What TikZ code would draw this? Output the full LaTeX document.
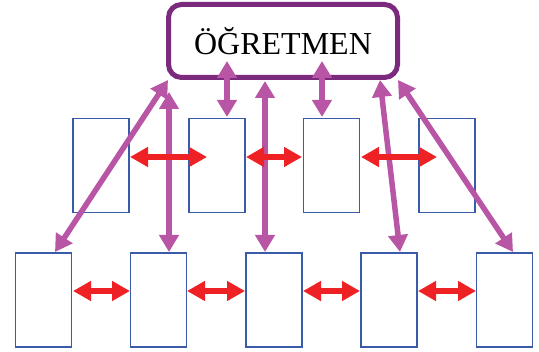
\documentclass[tikz,border=0pt]{standalone}
\usepackage{fontspec}
\setmainfont{Liberation Serif}
\usetikzlibrary{arrows.meta}
\definecolor{boxpurple}{HTML}{7B2A7E}
\definecolor{arrpurple}{HTML}{B855A5}
\definecolor{arrred}{HTML}{EE2124}
\definecolor{rectblue}{HTML}{3A5BA9}
\begin{document}
\begin{tikzpicture}[x=1pt,y=-1pt,
  cell/.style={draw=rectblue,line width=1.8pt,minimum width=56pt,minimum height=94pt,inner sep=0pt,fill=none},
  pl/.style={draw=arrpurple,line width=5.5pt,{Triangle[width=19pt,length=17pt]}-{Triangle[width=19pt,length=17pt]}},
  rl/.style={draw=arrred,line width=5.5pt,{Triangle[width=19pt,length=18pt]}-{Triangle[width=19pt,length=18pt]}}]
\useasboundingbox (0,0) rectangle (539,352);
% cells
\node[cell] (r11) at (101,165.5) {};
\node[cell] (r12) at (217,165.5) {};
\node[cell] (r13) at (331.5,165.5) {};
\node[cell] (r14) at (447,165.5) {};
\node[cell] (r21) at (43.5,300) {};
\node[cell] (r22) at (158.5,300) {};
\node[cell] (r23) at (274,300) {};
\node[cell] (r24) at (389,300) {};
\node[cell] (r25) at (504.5,300) {};
% teacher box
\node[draw=boxpurple,line width=5pt,rounded corners=13pt,minimum width=229pt,minimum height=73pt,inner sep=0pt,font=\fontsize{32}{36}\selectfont] (t) at (283,41) {ÖĞRETMEN};
% endpoints
\coordinate (a1) at (55,252);  \coordinate (a2) at (168,80);
\coordinate (b1) at (169,252); \coordinate (b2) at (169,92);
\coordinate (c1) at (227,61);  \coordinate (c2) at (227,117);
\coordinate (d1) at (265,252); \coordinate (d2) at (265,81);
\coordinate (e1) at (322,61);  \coordinate (e2) at (322,117);
\coordinate (f1) at (380,80);  \coordinate (f2) at (400,252);
\coordinate (g1) at (398,80);  \coordinate (g2) at (513,252);
\draw[pl] (a1) -- (a2);
\draw[pl] (b1) -- (b2);
\draw[pl] (c1) -- (c2);
\draw[pl] (d1) -- (d2);
\draw[pl] (e1) -- (e2);
\draw[pl] (f1) -- (f2);
\draw[pl] (g1) -- (g2);
% red arrows row 1
\coordinate (h1) at (130,157); \coordinate (h2) at (207,157);
\coordinate (h3) at (246,157); \coordinate (h4) at (302,157);
\coordinate (h5) at (361,157); \coordinate (h6) at (437,157);
\draw[rl] (h1) -- (h2);
\draw[rl] (h3) -- (h4);
\draw[rl] (h5) -- (h6);
% red arrows row 2
\coordinate (k1) at (73,291);  \coordinate (k2) at (130,291);
\coordinate (k3) at (187,291); \coordinate (k4) at (245,291);
\coordinate (k5) at (303,291); \coordinate (k6) at (360,291);
\coordinate (k7) at (418,291); \coordinate (k8) at (476,291);
\draw[rl] (k1) -- (k2);
\draw[rl] (k3) -- (k4);
\draw[rl] (k5) -- (k6);
\draw[rl] (k7) -- (k8);
\end{tikzpicture}
\end{document}
